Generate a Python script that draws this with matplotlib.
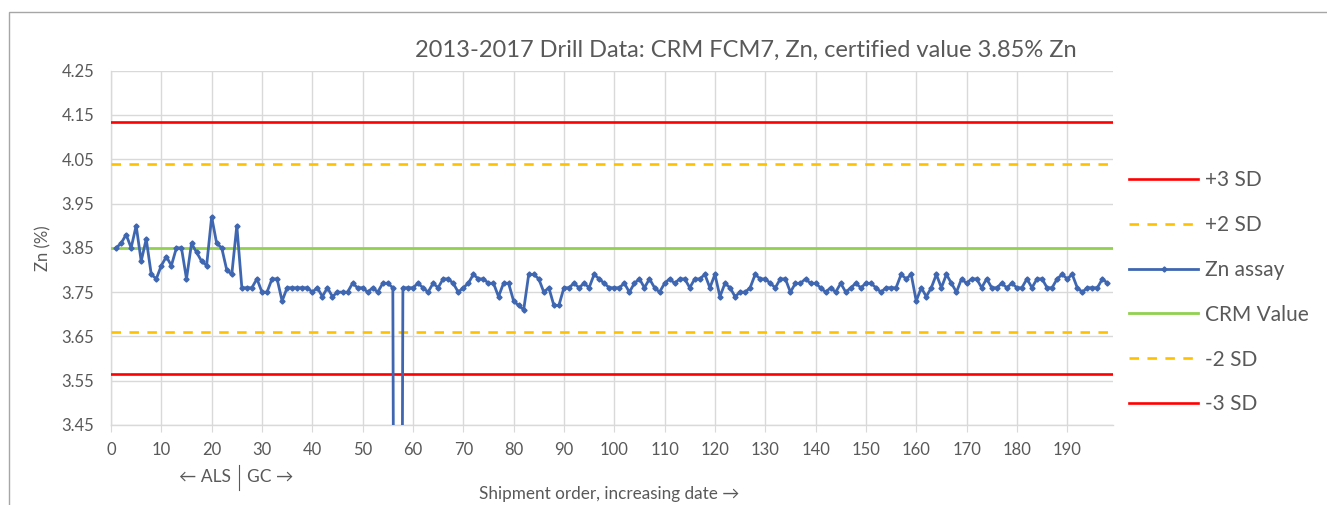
import matplotlib
matplotlib.use("Agg")
import matplotlib.pyplot as plt
import matplotlib.transforms as mtransforms
from matplotlib.patches import Rectangle

plt.rcParams['font.family'] = ['Lato', 'DejaVu Sans']

# ---- data ----
shipment = list(range(1, 199))
zn_assay = [
    3.85, 3.86, 3.88, 3.85, 3.90, 3.82, 3.87, 3.79, 3.78, 3.81,
    3.83, 3.81, 3.85, 3.85, 3.78, 3.86, 3.84, 3.82, 3.81, 3.92,
    3.86, 3.85, 3.80, 3.79, 3.90, 3.76, 3.76, 3.76, 3.78, 3.75,
    3.75, 3.78, 3.78, 3.73, 3.76, 3.76, 3.76, 3.76, 3.76, 3.75,
    3.76, 3.74, 3.76, 3.74, 3.75, 3.75, 3.75, 3.77, 3.76, 3.76,
    3.75, 3.76, 3.75, 3.77, 3.77, 3.76, 0.38, 3.76, 3.76, 3.76,
    3.77, 3.76, 3.75, 3.77, 3.76, 3.78, 3.78, 3.77, 3.75, 3.76,
    3.77, 3.79, 3.78, 3.78, 3.77, 3.77, 3.74, 3.77, 3.77, 3.73,
    3.72, 3.71, 3.79, 3.79, 3.78, 3.75, 3.76, 3.72, 3.72, 3.76,
    3.76, 3.77, 3.76, 3.77, 3.76, 3.79, 3.78, 3.77, 3.76, 3.76,
    3.76, 3.77, 3.75, 3.77, 3.78, 3.76, 3.78, 3.76, 3.75, 3.77,
    3.78, 3.77, 3.78, 3.78, 3.76, 3.78, 3.78, 3.79, 3.76, 3.79,
    3.74, 3.77, 3.76, 3.74, 3.75, 3.75, 3.76, 3.79, 3.78, 3.78,
    3.77, 3.76, 3.78, 3.78, 3.75, 3.77, 3.77, 3.78, 3.77, 3.77,
    3.76, 3.75, 3.76, 3.75, 3.77, 3.75, 3.76, 3.77, 3.76, 3.77,
    3.77, 3.76, 3.75, 3.76, 3.76, 3.76, 3.79, 3.78, 3.79, 3.73,
    3.76, 3.74, 3.76, 3.79, 3.76, 3.79, 3.77, 3.75, 3.78, 3.77,
    3.78, 3.78, 3.76, 3.78, 3.76, 3.76, 3.77, 3.76, 3.77, 3.76,
    3.76, 3.78, 3.76, 3.78, 3.78, 3.76, 3.76, 3.78, 3.79, 3.78,
    3.79, 3.76, 3.75, 3.76, 3.76, 3.76, 3.78, 3.77,
]
crm_value = 3.85
sd = 0.095
limit_labels = ['+3 SD', '+2 SD', 'CRM Value', '-2 SD', '-3 SD']
limit_values = [crm_value + 3 * sd, crm_value + 2 * sd, crm_value,
                crm_value - 2 * sd, crm_value - 3 * sd]
y_ticks = [3.45, 3.55, 3.65, 3.75, 3.85, 3.95, 4.05, 4.15, 4.25]
x_ticks = list(range(0, 200, 10))
title = "2013-2017 Drill Data: CRM FCM7, Zn, certified value 3.85% Zn"
x_label = "Shipment order, increasing date \u2192"
y_label = "Zn (%)"
lab_split = 25.5

# ---- styles ----
TXT = '#595959'
GRID = '#D9D9D9'
RED = '#FF0000'
ORANGE = '#FFC000'
GREEN = '#92D050'
BLUE = '#3F67B1'
FAM = ['Lato', 'DejaVu Sans']

W, H = 1327, 505
fig = plt.figure(figsize=(W / 100, H / 100), dpi=100)
ax = fig.add_axes([111 / W, 1 - 425 / H, (1113 - 111) / W, (425 - 70.7) / H])

x_min, x_max = 0, 199.1
line_x = [x_min, x_max]

dash = (0, (3.6, 3.2))
styles = {
    '+3 SD': dict(color=RED, lw=1.9, ls='-'),
    '+2 SD': dict(color=ORANGE, lw=1.9, ls=dash),
    'CRM Value': dict(color=GREEN, lw=2.0, ls='-'),
    '-2 SD': dict(color=ORANGE, lw=1.9, ls=dash),
    '-3 SD': dict(color=RED, lw=1.9, ls='-'),
}
handles = {}
for lab, val in zip(limit_labels, limit_values):
    h, = ax.plot(line_x, [val, val], label=lab, zorder=3, **styles[lab])
    handles[lab] = h

h_zn, = ax.plot(shipment, zn_assay, color=BLUE, lw=2.0, marker='D',
                markersize=2.6, label='Zn assay', zorder=4)
handles['Zn assay'] = h_zn

ax.set_xlim(x_min, x_max)
ax.set_ylim(3.45, 4.25)
ax.set_yticks(y_ticks)
ax.set_yticklabels([f"{v:.2f}" for v in y_ticks])
ax.set_xticks(x_ticks)
ax.grid(True, color=GRID, lw=1.0, zorder=0)
ax.set_axisbelow(True)
for s in ['top', 'right']:
    ax.spines[s].set_visible(False)
for s in ['left', 'bottom']:
    ax.spines[s].set_color(GRID)
    ax.spines[s].set_linewidth(1.0)
ax.tick_params(axis='x', colors=GRID, labelcolor=TXT, labelsize=12, length=5,
               direction='out', pad=7)
ax.tick_params(axis='y', colors=GRID, labelcolor=TXT, labelsize=12, length=0,
               pad=12)

ax.set_ylabel(y_label, color=TXT, fontsize=12, va='center')
ax.yaxis.set_label_coords((43 - 111) / 1002, 0.5)
ax.set_xlabel(x_label, color=TXT, fontsize=12.3, va='center')
ax.xaxis.set_label_coords(0.497, (425 - 494) / 354.3)

# ALS | GC annotation
trans = mtransforms.blended_transform_factory(ax.transData, ax.transAxes)
ax.text(lab_split - 1.6, -0.147, "\u2190 ALS", transform=trans, ha='right',
        va='center', color=TXT, fontsize=12.5, family=FAM)
ax.text(lab_split + 1.6, -0.147, "GC \u2192", transform=trans, ha='left',
        va='center', color=TXT, fontsize=12.5, family=FAM)
ax.plot([lab_split, lab_split], [-0.112, -0.183], transform=trans,
        color=TXT, lw=0.8, clip_on=False)

fig.text(1077 / W, 1 - 50 / H, title, ha='right', va='center', color=TXT,
         fontsize=17)

order = ['+3 SD', '+2 SD', 'Zn assay', 'CRM Value', '-2 SD', '-3 SD']
leg = fig.legend([handles[k] for k in order], order, loc='upper left',
                 bbox_to_anchor=(1121 / W, 1 - 162 / H), frameon=False,
                 fontsize=15, handlelength=3.3, handletextpad=0.34,
                 labelspacing=1.19, numpoints=1, borderaxespad=0)
for t in leg.get_texts():
    t.set_color(TXT)

fig.add_artist(Rectangle((9 / W, -0.1), 2.0, 1 - 11.7 / H + 0.1,
                         transform=fig.transFigure, fill=False,
                         edgecolor='#A6A6A6', lw=1.0))

fig.savefig('out.png', dpi=100, facecolor='white')
